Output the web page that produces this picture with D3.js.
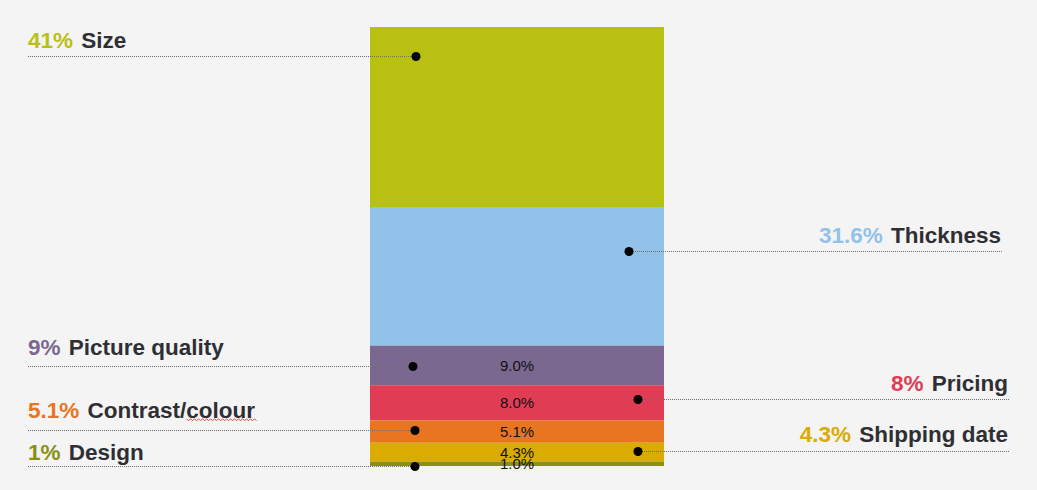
<!DOCTYPE html>
<html>
<head>
<meta charset="utf-8">
<script src="https://cdn.jsdelivr.net/npm/d3@7"></script>
<style>
  html, body { margin: 0; padding: 0; background: #f4f4f4; }
  svg { display: block; }
</style>
</head>
<body>
<svg id="chart" width="1037" height="490"></svg>
<script>
// data
const categories = ["Size", "Thickness", "Picture quality", "Pricing", "Contrast/colour", "Shipping date", "Design"];
const values = [41, 31.6, 9, 8, 5.1, 4.3, 1];
const pctLabels = ["41%", "31.6%", "9%", "8%", "5.1%", "4.3%", "1%"];
const colors = ["#b8c011", "#92c1e9", "#7b6890", "#e03c54", "#e87522", "#daab00", "#8a9010"];
const showInside = [false, false, true, true, true, true, true];

// label layout (which side, where the leader line runs)
const side = ["left", "right", "left", "right", "left", "right", "left"];
const leaderY = [56, 251, 366, 399, 430, 451, 466];
const textY = [48, 243, 355, 391, 418, 442, 460];
const dotX = [416, 629, 413, 638, 415, 638, 415];
const rightEnd = [0, 1003, 0, 1010, 0, 1010, 0];
const leftStart = 28;

const svg = d3.select("#chart");
svg.append("rect").attr("width", 1037).attr("height", 490).attr("fill", "#f4f4f4");

const x = d3.scaleBand().domain(["all"]).range([370, 664]).padding(0);
const y = d3.scaleLinear().domain([0, d3.sum(values)]).range([27, 466]);

// stack the segments
let acc = 0;
const segs = values.map((v, i) => {
    const s = { i: i, name: categories[i], v: v, y0: acc, y1: acc + v };
    acc += v;
    return s;
});

const bars = svg.append("g");
bars.selectAll("rect")
    .data(segs)
    .join("rect")
    .attr("x", x("all"))
    .attr("width", x.bandwidth())
    .attr("y", d => y(d.y0))
    .attr("height", d => y(d.y1) - y(d.y0))
    .attr("fill", d => colors[d.i]);

// values inside the small segments
bars.selectAll("text")
    .data(segs.filter(d => showInside[d.i]))
    .join("text")
    .attr("x", x("all") + x.bandwidth() / 2)
    .attr("y", d => (y(d.y0) + y(d.y1)) / 2 + 5.5)
    .attr("text-anchor", "middle")
    .attr("font-family", "Liberation Sans, Arial, sans-serif")
    .attr("font-size", 15)
    .attr("fill", "#111")
    .text(d => d.v.toFixed(1) + "%");

// leader lines
const leaders = svg.append("g");
leaders.selectAll("line")
    .data(segs)
    .join("line")
    .attr("x1", d => side[d.i] == "left" ? leftStart : dotX[d.i])
    .attr("x2", d => side[d.i] == "left" ? dotX[d.i] : rightEnd[d.i])
    .attr("y1", d => leaderY[d.i] + 0.5)
    .attr("y2", d => leaderY[d.i] + 0.5)
    .attr("stroke", "#6f6f6f")
    .attr("stroke-width", 1)
    .attr("stroke-dasharray", "1,1");

leaders.selectAll("circle")
    .data(segs)
    .join("circle")
    .attr("cx", d => dotX[d.i])
    .attr("cy", d => leaderY[d.i] + 0.5)
    .attr("r", 4.5)
    .attr("fill", "#000");

// outer labels
const labels = svg.append("g")
    .attr("font-family", "Liberation Sans, Arial, sans-serif")
    .attr("font-size", 22.5)
    .attr("font-weight", "bold");

segs.forEach(d => {
    const t = labels.append("text")
        .attr("y", textY[d.i]);
    t.append("tspan").attr("fill", colors[d.i]).text(pctLabels[d.i]);
    t.append("tspan").attr("fill", "#2f2f33").attr("dx", 2).text(" " + d.name);
    if (side[d.i] == "left") {
        t.attr("x", leftStart).attr("text-anchor", "start");
    } else {
        t.attr("x", rightEnd[d.i] - 2).attr("text-anchor", "end");
    }
    if (d.name == "Contrast/colour") {
        // spell-check squiggle under "colour"
        const box = t.node().getBBox();
        const tmp = labels.append("text").text("colour");
        const w = tmp.node().getComputedTextLength();
        tmp.remove();
        const xEnd = box.x + box.width;
        const xStart = xEnd - w;
        const yy = textY[d.i] + 1;
        let p = "M" + xStart + "," + yy;
        for (let xx = xStart, k = 0; xx < xEnd; xx += 2, k++) {
            p += " L" + (xx + 2) + "," + (yy + (k % 2 == 0 ? 1.5 : 0));
        }
        labels.append("path").attr("d", p).attr("fill", "none")
            .attr("stroke", "#e02020").attr("stroke-width", 0.8);
    }
});
</script>
</body>
</html>
